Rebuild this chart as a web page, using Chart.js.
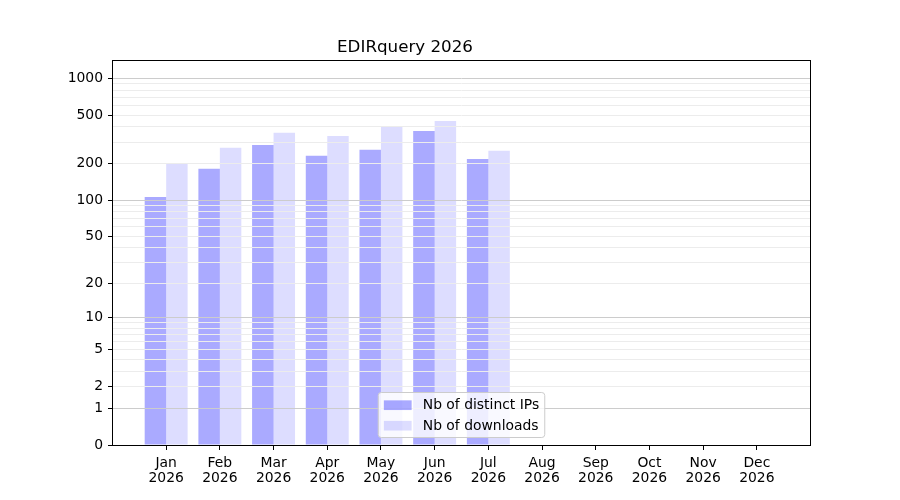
<!DOCTYPE html>
<html>
<head>
<meta charset="utf-8">
<title>EDIRquery 2026</title>
<script src="https://cdn.jsdelivr.net/npm/chart.js@4/dist/chart.umd.min.js"></script>
<style>
  html, body { margin: 0; padding: 0; background: #fff; }
  #wrap { width: 900px; height: 500px; }
</style>
</head>
<body>
<div id="wrap"><canvas id="chart" width="900" height="500"></canvas></div>
<script>
// chart data
const months = ['Jan', 'Feb', 'Mar', 'Apr', 'May', 'Jun', 'Jul', 'Aug', 'Sep', 'Oct', 'Nov', 'Dec'];
const year = '2026';
const distinctIps = [106, 181, 284, 231, 259, 370, 218, 0, 0, 0, 0, 0];
const downloads = [198, 269, 357, 337, 399, 447, 254, 0, 0, 0, 0, 0];
const yTickLabels = [0, 1, 2, 5, 10, 20, 50, 100, 200, 500, 1000];
const yMajorLines = [1, 10, 100, 1000];

// minor grid lines at 1..9 x 10^k
const yGridValues = [0];
for (const decade of [1, 10, 100]) {
    for (let m = 1; m <= 9; m++) yGridValues.push(m * decade);
}
yGridValues.push(1000);

const fontFamily = 'DejaVu Sans';
const fontSize = 13.9;

// y axis scaled as log10(1 + v), so zero fits on the axis
class Log1pScale extends Chart.LinearScale {
    buildTicks() {
        return yGridValues.map(v => ({ value: v }));
    }
    configure() {
        super.configure();
        this._t0 = Math.log10(1 + this.min);
        this._t1 = Math.log10(1 + this.max);
    }
    getPixelForValue(value) {
        const t = Math.log10(1 + value);
        return this.getPixelForDecimal((t - this._t0) / (this._t1 - this._t0));
    }
    getValueForPixel(pixel) {
        const t = this._t0 + this.getDecimalForPixel(pixel) * (this._t1 - this._t0);
        return Math.pow(10, t) - 1;
    }
}
Log1pScale.id = 'log1p';
Log1pScale.defaults = Chart.LinearScale.defaults;
Chart.register(Log1pScale);

// frame + legend in the lower centre of the plot
const framePlugin = {
    id: 'frameAndLegend',
    afterDraw(chart) {
        const ctx = chart.ctx;
        const area = chart.chartArea;
        ctx.save();
        ctx.strokeStyle = '#000';
        ctx.lineWidth = 1;
        ctx.strokeRect(Math.round(area.left) - 0.5, Math.round(area.top) + 0.5,
            Math.round(area.right - area.left) + 1, Math.round(area.bottom - area.top));

        const sets = chart.data.datasets;
        ctx.font = fontSize + 'px "' + fontFamily + '"';
        const textW = Math.max(...sets.map(d => ctx.measureText(d.label).width));
        const pad = 5.6, handleW = 27.8, handleH = 9.7, textPad = 11.1, rowH = 20.5;
        const boxW = pad + handleW + textPad + textW + pad;
        const boxH = 45;
        const x0 = (area.left + area.right) / 2 - boxW / 2;
        const y0 = area.bottom - 7.5 - boxH;

        ctx.beginPath();
        ctx.roundRect(x0, y0, boxW, boxH, 3);
        ctx.fillStyle = 'rgba(255,255,255,0.8)';
        ctx.fill();
        ctx.strokeStyle = '#cccccc';
        ctx.stroke();

        sets.forEach((d, i) => {
            const cy = y0 + 12.7 + i * rowH;
            ctx.fillStyle = d.backgroundColor;
            ctx.fillRect(x0 + pad, cy - handleH / 2, handleW, handleH);
            ctx.fillStyle = '#000';
            ctx.textBaseline = 'middle';
            ctx.textAlign = 'left';
            ctx.fillText(d.label, x0 + pad + handleW + textPad, cy + 0.5);
        });
        ctx.restore();
    }
};

Chart.defaults.font.family = fontFamily;
Chart.defaults.font.size = fontSize;
Chart.defaults.color = '#000';

new Chart(document.getElementById('chart'), {
    type: 'bar',
    data: {
        datasets: [{
            label: 'Nb of distinct IPs',
            data: distinctIps.map((v, i) => ({ x: i, y: v })),
            backgroundColor: 'rgba(0,0,255,0.333)',
            borderWidth: 0
        }, {
            label: 'Nb of downloads',
            data: downloads.map((v, i) => ({ x: i, y: v })),
            backgroundColor: 'rgba(0,0,255,0.133)',
            borderWidth: 0
        }]
    },
    options: {
        responsive: false,
        animation: false,
        layout: { padding: { left: 0, right: 90, top: 0, bottom: 0 } },
        datasets: { bar: { categoryPercentage: 0.8, barPercentage: 1.0 } },
        plugins: {
            legend: { display: false },
            tooltip: { enabled: false },
            title: {
                display: true,
                text: 'EDIRquery ' + year,
                color: '#000',
                font: { size: 16.7, weight: 'normal', lineHeight: 1.2 },
                padding: { top: 38, bottom: 2 }
            }
        },
        scales: {
            x: {
                type: 'linear',
                min: -0.99,
                max: 11.99,
                offset: false,
                afterBuildTicks: scale => {
                    scale.ticks = months.map((m, i) => ({ value: i }));
                },
                afterFit: scale => { scale.height = 55; },
                ticks: {
                    autoSkip: false,
                    maxRotation: 0,
                    padding: 6,
                    font: { lineHeight: 1.05 },
                    callback: v => [months[v], year]
                },
                grid: {
                    offset: false,
                    drawOnChartArea: false,
                    drawTicks: true,
                    tickLength: 5,
                    tickColor: '#000'
                },
                border: { display: false }
            },
            y: {
                type: 'log1p',
                min: 0,
                max: 1410,
                afterFit: scale => { scale.width = 113; },
                ticks: {
                    autoSkip: false,
                    padding: 5,
                    callback: v => (yTickLabels.includes(v) ? String(v) : '')
                },
                grid: {
                    z: 1,
                    tickLength: 5,
                    color: c => {
                        const v = c.tick ? c.tick.value : null;
                        if (v === 0) return 'rgba(0,0,0,0)';
                        return yMajorLines.includes(v) ? '#cccccc' : '#ececec';
                    },
                    tickColor: c => (c.tick && yTickLabels.includes(c.tick.value) ? '#000' : 'rgba(0,0,0,0)')
                },
                border: { display: false }
            }
        }
    },
    plugins: [framePlugin]
});
</script>
</body>
</html>
